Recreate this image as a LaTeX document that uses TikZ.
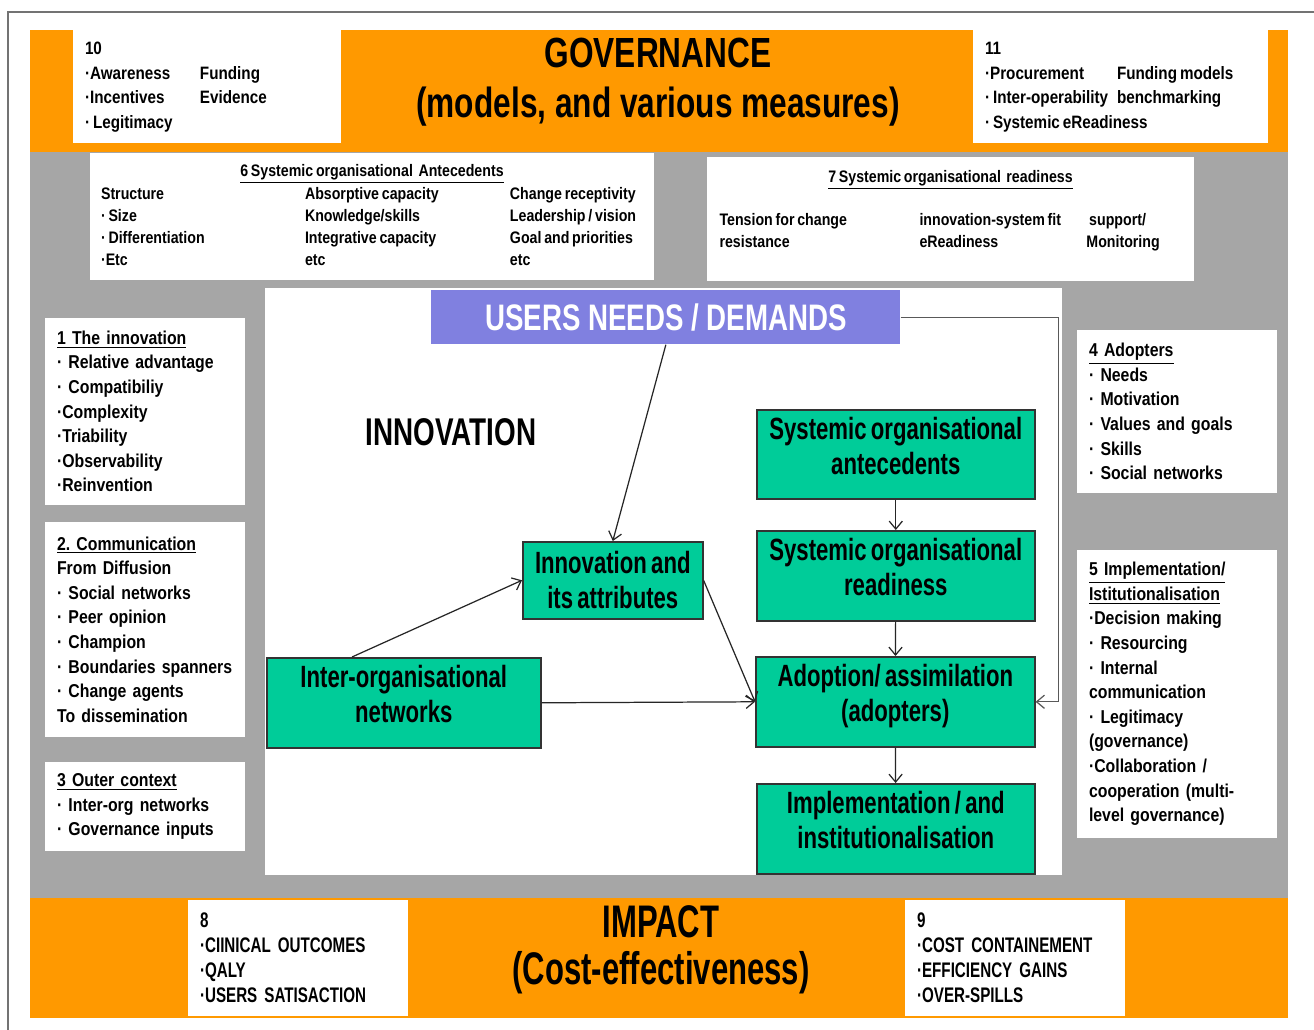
\documentclass[tikz,border=0pt]{standalone}
\usepackage{fontspec}
\setmainfont{Liberation Sans}[FakeStretch=0.85, WordSpace=0.7]
\newfontfamily\condfont{Liberation Sans}[FakeStretch=0.72, WordSpace=0.7]
\newfontfamily\headfont{Liberation Sans}[FakeStretch=0.75]
\newfontfamily\impfont{Liberation Sans}[FakeStretch=0.68]
\usetikzlibrary{arrows}
\usetikzlibrary{arrows.meta}
\usetikzlibrary{calc}
\usetikzlibrary{positioning}
\definecolor{orangeband}{RGB}{255,153,0}
\definecolor{grayband}{RGB}{166,166,166}
\definecolor{stagegreen}{RGB}{0,204,153}
\definecolor{userblue}{RGB}{128,128,224}
\newcommand{\bul}{\textperiodcentered}
\tikzset{
  boxsize/.style 2 args={anchor=north west, minimum width=#1*0.02cm, minimum height=#2*0.02cm},
  panel/.style={fill=white, inner sep=0pt, outer sep=0pt},
  listtext/.style={align=left, text width=3.52cm, font=\fontsize{10.6}{14}\selectfont\bfseries},
  smalltext/.style={font=\fontsize{9.5}{12.5}\selectfont\bfseries},
  govtext/.style={font=\fontsize{10.2}{14.2}\selectfont\bfseries},
  imptext/.style={align=left, text width=3.92cm, font=\condfont\fontsize{12}{14.2}\selectfont\bfseries},
  stage/.style={draw=black!80, line width=0.9pt, fill=stagegreen, inner sep=0pt,
    align=center, font=\condfont\fontsize{17.5}{20}\selectfont\bfseries},
  lifted/.style={text depth=10pt},
  link/.style={-{Straight Barb[length=4.5pt,width=7.5pt]}, line width=0.7pt, black!85}
}
\begin{document}
\begin{tikzpicture}[x=0.02cm, y=-0.02cm]
\useasboundingbox (0,0) rectangle (1314,1030);
% fond
\fill[orangeband] (30,30) rectangle (1288,152);
\fill[grayband] (30,152) rectangle (1288,898);
\fill[orangeband] (30,898) rectangle (1288,1018);
\fill[white] (265,288) rectangle (1062,875);
\draw[black!55, line width=1.4pt] (8,1030) -- (8,12) -- (1314,12);
% gouvernance
\node[panel, govtext, boxsize={268}{113}] (p10) at (73,30) {\begin{tabular}{@{}p{2.3cm}@{}p{2.58cm}@{}}
10 & \\
\bul Awareness & Funding\\
\bul Incentives & Evidence\\
\bul\ Legitimacy &
\end{tabular}};
\node[font=\headfont\fontsize{24}{28.5}\selectfont\bfseries, align=center] (gov) at (658,82)
  {GOVERNANCE\\(models, and various measures)};
\node[panel, govtext, boxsize={295}{113}] (p11) at (973,30) {\begin{tabular}{@{}p{2.64cm}@{}p{2.78cm}@{}}
11 & \\
\bul Procurement & Funding models\\
\bul\ Inter-operability & benchmarking\\
\multicolumn{2}{@{}l@{}}{\bul\ Systemic eReadiness}
\end{tabular}};
% antecedents et readiness
\node[panel, smalltext, boxsize={564}{127}] (p6) at (90,153) {\begin{tabular}{@{}p{4.08cm}@{}p{4.1cm}@{}p{2.66cm}@{}}
\multicolumn{3}{c}{\underline{6 Systemic organisational\ \ Antecedents}}\\
Structure & Absorptive capacity & Change receptivity\\
\bul\ Size & Knowledge/skills & Leadership / vision\\
\bul\ Differentiation & Integrative capacity & Goal and priorities\\
\bul Etc & etc & etc
\end{tabular}};
\node[panel, smalltext, boxsize={487}{124}] (p7) at (707,157) {\begin{tabular}{@{}p{4cm}@{}p{3.34cm}@{}p{1.9cm}@{}}
\multicolumn{3}{c}{\underline{7 Systemic organisational\ \ readiness}}\\[12pt]
Tension for change & innovation-system fit & \ support/\\
resistance & eReadiness & Monitoring\\[10pt]
\end{tabular}};
% colonne gauche
\node[panel, listtext, boxsize={200}{187}] (p1) at (45,318)
  {\underline{1 The innovation}\\ \bul\ Relative advantage\\ \bul\ Compatibiliy\\
   \bul Complexity\\ \bul Triability\\ \bul Observability\\ \bul Reinvention};
\node[panel, listtext, boxsize={200}{215}] (p2) at (45,522)
  {\underline{2.\ Communication}\\ From Diffusion\\ \bul\ Social networks\\ \bul\ Peer opinion\\
   \bul\ Champion\\ \bul\ Boundaries spanners\\ \bul\ Change agents\\ To dissemination};
\node[panel, listtext, boxsize={200}{89}] (p3) at (45,762)
  {\underline{3 Outer context}\\ \bul\ Inter-org networks\\ \bul\ Governance inputs};
% colonne droite
\node[panel, listtext, boxsize={200}{163}] (p4) at (1077,330)
  {\underline{4 Adopters}\\ \bul\ Needs\\ \bul\ Motivation\\ \bul\ Values and goals\\
   \bul\ Skills\\ \bul\ Social networks};
\node[panel, listtext, boxsize={200}{288}] (p5) at (1077,550)
  {\underline{5 Implementation/}\\ \underline{Istitutionalisation}\\ \bul Decision making\\
   \bul\ Resourcing\\ \bul\ Internal\\ communication\\ \bul\ Legitimacy\\ (governance)\\
   \bul Collaboration /\\ cooperation (multi-\\ level governance)};
% centre
\node[fill=userblue, text=white, inner sep=0pt, boxsize={469}{54},
  font=\headfont\fontsize{21}{24}\selectfont\bfseries] (users) at (431,290) {USERS NEEDS / DEMANDS};
\node[font=\condfont\fontsize{22}{24}\selectfont\bfseries] (innovtitle) at (451,432) {INNOVATION};
\node[stage, lifted, boxsize={278}{89}] (antec) at (756,409) {Systemic organisational\\antecedents};
\node[stage, lifted, boxsize={278}{90}] (ready) at (756,530) {Systemic organisational\\readiness};
\node[stage, boxsize={180}{77}] (innov) at (522,541) {Innovation and\\its attributes};
\node[stage, lifted, boxsize={274}{90}] (interorg) at (266,657) {Inter-organisational\\networks};
\node[stage, lifted, boxsize={279}{90}] (adopt) at (755,656) {Adoption/ assimilation\\(adopters)};
\node[stage, lifted, boxsize={278}{90}] (impl) at (756,783) {Implementation / and\\institutionalisation};
% fleches
\draw[link] (users.south) -- (innov.north);
\draw[link] ($(interorg.north west)+(86,0)$) -- (innov.west);
\draw[link] (innov.east) -- (adopt.west);
\draw[link] (interorg.east) -- (adopt.west);
\draw[link] (antec) -- (ready);
\draw[link] (ready) -- (adopt);
\draw[link] (adopt) -- (impl);
\draw[link, black!65] (users.east) -- ++(158,0) |- (adopt.east);
% impact
\node[panel, imptext, boxsize={220}{116}] (p8) at (188,900)
  {8\\ \bul CIINICAL OUTCOMES\\ \bul QALY\\ \bul USERS SATISACTION};
\node[font=\impfont\fontsize{26}{26.8}\selectfont\bfseries, align=center] (imp) at (661,950)
  {IMPACT\\(Cost-effectiveness)};
\node[panel, imptext, boxsize={220}{116}] (p9) at (905,900)
  {9\\ \bul COST CONTAINEMENT\\ \bul EFFICIENCY GAINS\\ \bul OVER-SPILLS};
\end{tikzpicture}
\end{document}
